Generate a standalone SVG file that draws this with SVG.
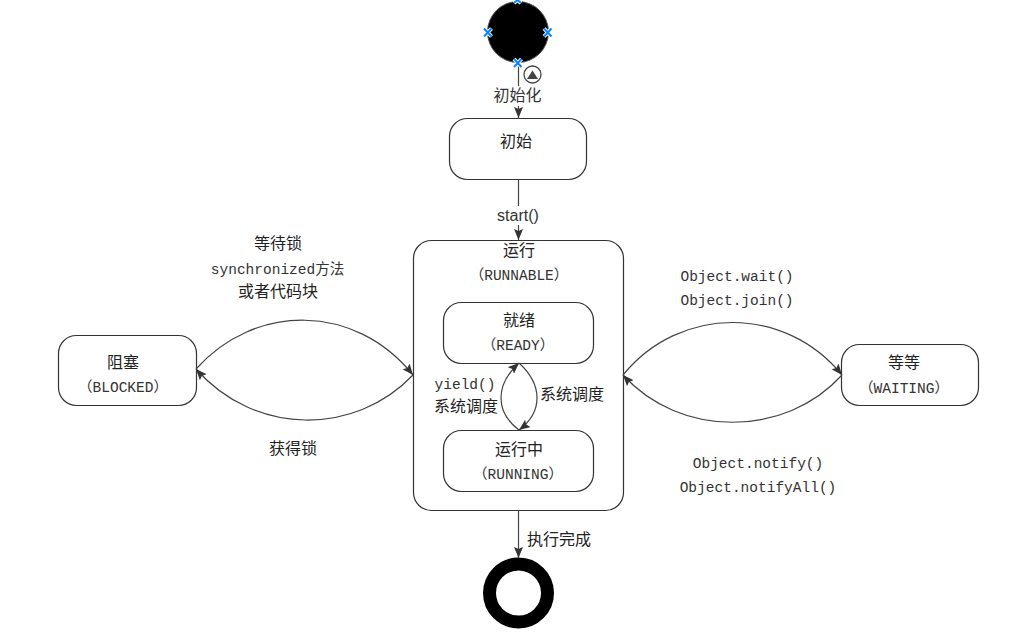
<svg xmlns="http://www.w3.org/2000/svg" width="1028" height="640" viewBox="0 0 1028 640">
<style>
.box{fill:#fff;stroke:#333;stroke-width:1.2}
.c{fill:none;stroke:#444;stroke-width:1.2}
.t{font-family:"Liberation Mono","Noto Sans CJK SC",monospace;font-size:14.5px;fill:#333;text-anchor:middle}
.z{font-family:"Noto Sans CJK SC",sans-serif;font-size:16px;fill:#222;text-anchor:middle}
.s{font-family:"Liberation Sans","Noto Sans CJK SC",sans-serif;font-size:16px;fill:#333;text-anchor:middle}
.x{stroke:#0a84ff;stroke-width:2;fill:none}
.h{stroke:#fff;stroke-width:4;fill:none}
</style>
<defs>
<marker id="a" markerWidth="13" markerHeight="10" refX="11" refY="4.500" orient="auto" markerUnits="userSpaceOnUse"><path d="M0 0L11 4.500L0 9L2 4.500Z" fill="#333"/></marker>
</defs>
<g id="init"><rect class="box" x="449.500" y="118.500" width="137" height="61" rx="18"/><text class="z" x="516" y="147">初始</text></g>
<g id="runnable"><rect class="box" x="413.500" y="240.500" width="210" height="270" rx="18"/><text class="z" x="519" y="256">运行</text><text class="t" x="519" y="280">（RUNNABLE）</text></g>
<g id="ready"><rect class="box" x="443.500" y="302.500" width="150" height="61" rx="18"/><text class="z" x="519" y="326">就绪</text><text class="t" x="518" y="350">（READY）</text></g>
<g id="running"><rect class="box" x="443.500" y="430.500" width="150" height="61" rx="18"/><text class="z" x="519" y="455">运行中</text><text class="t" x="518" y="479">（RUNNING）</text></g>
<g id="blocked"><rect class="box" x="58.500" y="335.500" width="138" height="70" rx="18"/><text class="z" x="123" y="368">阻塞</text><text class="t" x="123" y="392">（BLOCKED）</text></g>
<g id="waiting"><rect class="box" x="841.500" y="344.500" width="137" height="61" rx="18"/><text class="z" x="904" y="368">等等</text><text class="t" x="904" y="393">（WAITING）</text></g>
<g id="end"><circle cx="518.500" cy="593" r="29" fill="#fff" stroke="#000" stroke-width="13"/></g>
<g id="connectors">
<path class="c" d="M518.500 63V118" marker-end="url(#a)"/>
<path class="c" d="M518.500 180V240" marker-end="url(#a)"/>
<path class="c" d="M518.500 510V558" marker-end="url(#a)"/>
<path class="c" d="M196 369C255 303 355 303 413 375" marker-end="url(#a)"/>
<path class="c" d="M413 375C355 436 255 436 196 369" marker-end="url(#a)"/>
<path class="c" d="M623 375C680 305 785 305 842 375" marker-end="url(#a)"/>
<path class="c" d="M842 375C785 438 680 438 623 375" marker-end="url(#a)"/>
<path class="c" d="M519 430C495 412 495 385 519 363" marker-end="url(#a)"/>
<path class="c" d="M519 363C543 385 543 412 519 430" marker-end="url(#a)"/>
</g>
<g id="start"><circle cx="518" cy="32" r="30.500" fill="#000" stroke="#555"/>
<path class="h" d="M514 3l3.500 -3l3.500 3M484 28.500l7.500 8M491.500 28.500l-7.500 8M544 28.500l7.500 8M551.500 28.500l-7.500 8M514 59l7.500 8M521.500 59l-7.500 8"/>
<path class="x" d="M514 3l3.500 -3l3.500 3M484 28.500l7.500 8M491.500 28.500l-7.500 8M544 28.500l7.500 8M551.500 28.500l-7.500 8M514 59l7.500 8M521.500 59l-7.500 8"/>
<circle cx="532.500" cy="74.500" r="8.500" fill="#fff" stroke="#444" stroke-width="1.300"/><path d="M527 79L532.500 70.500L538 79Z" fill="#444"/></g>
<g id="labels">
<rect x="491" y="86" width="54" height="20" fill="#fff"/>
<text class="s" x="517.500" y="101">初始化</text>
<rect x="495" y="206" width="46" height="19" fill="#fff"/>
<text class="s" x="518" y="221">start()</text>
<text class="z" x="278" y="249">等待锁</text>
<text class="t" x="277.500" y="274">synchronized方法</text>
<text class="z" x="278" y="297">或者代码块</text>
<text class="z" x="293" y="454">获得锁</text>
<text class="t" x="737" y="281">Object.wait()</text>
<text class="t" x="737" y="305">Object.join()</text>
<text class="t" x="758" y="468">Object.notify()</text>
<text class="t" x="758" y="492">Object.notifyAll()</text>
<text class="t" x="465" y="389">yield()</text>
<text class="z" x="466" y="412">系统调度</text>
<text class="z" x="572" y="400">系统调度</text>
<text class="z" x="559" y="545">执行完成</text>
</g>
</svg>
